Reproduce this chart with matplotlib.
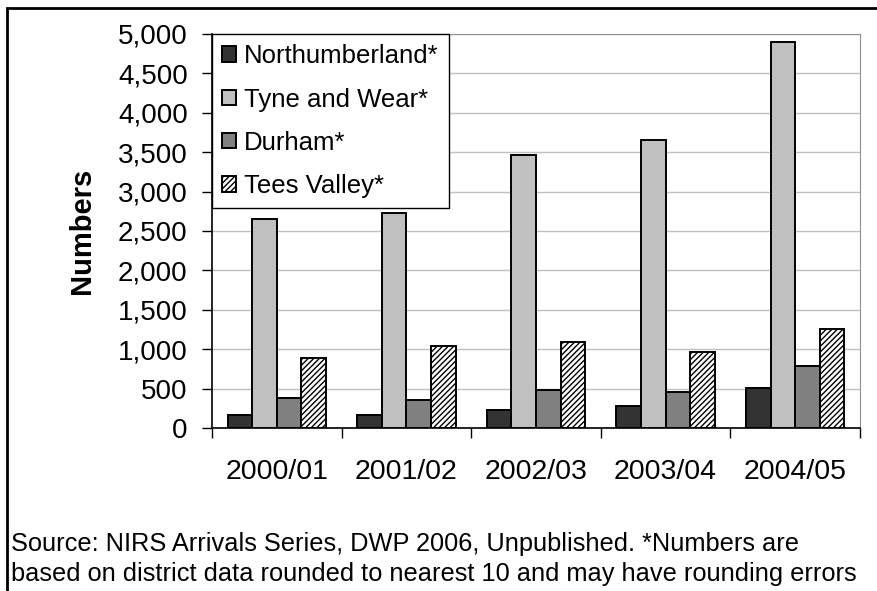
import matplotlib

matplotlib.use("Agg")
import matplotlib.pyplot as plt  # noqa: E402
import numpy as np  # noqa: E402
from matplotlib.patches import Rectangle  # noqa: E402
from matplotlib.ticker import FuncFormatter  # noqa: E402

plt.rcParams["font.family"] = ["Liberation Sans", "DejaVu Sans"]
plt.rcParams["hatch.linewidth"] = 1.0

years = ["2000/01", "2001/02", "2002/03", "2003/04", "2004/05"]
northumberland = [170, 170, 230, 280, 510]
tyne_and_wear = [2650, 2730, 3470, 3650, 4900]
durham = [380, 350, 480, 455, 790]
tees_valley = [890, 1040, 1090, 970, 1250]

series = [
    ("Northumberland*", northumberland, "#333333", None),
    ("Tyne and Wear*", tyne_and_wear, "#c0c0c0", None),
    ("Durham*", durham, "#808080", None),
    ("Tees Valley*", tees_valley, "white", "//////"),
]

fig = plt.figure(figsize=(8.78, 5.91), dpi=100)
ax = fig.add_axes([0.2415, 0.2758, 0.738, 0.6667])

x = np.arange(len(years))
width = 0.19
for i, (name, vals, color, hatch) in enumerate(series):
    ax.bar(x + (i - 1.5) * width, vals, width, color=color, edgecolor="black",
           linewidth=1.4, hatch=hatch, label=name, zorder=3)

ax.set_xlim(-0.5, len(years) - 0.5)
ax.set_ylim(0, 5000)
ax.set_yticks(np.arange(0, 5001, 500))
ax.yaxis.set_major_formatter(FuncFormatter(lambda v, _: f"{v:,.0f}"))
ax.tick_params(axis="y", labelsize=20, length=7.5, width=1, pad=10)
ax.grid(axis="y", color="#c0c0c0", linewidth=1, zorder=0)

# category labels sit between the boundary ticks
ax.set_xticks(np.arange(-0.5, len(years)), minor=False)
ax.set_xticklabels([])
ax.tick_params(axis="x", which="major", length=7, width=1)
ax.set_xticks(x, minor=True)
ax.set_xticklabels(years, minor=True)
ax.tick_params(axis="x", which="minor", length=0, labelsize=20.5, pad=22)

for side in ("top", "right"):
    ax.spines[side].set_color("#909090")
for side in ("left", "bottom"):
    ax.spines[side].set_linewidth(1.2)

ax.set_ylabel("Numbers", fontsize=21, fontweight="bold", labelpad=16)

leg = ax.legend(loc="upper left", bbox_to_anchor=(0, 1), borderaxespad=0,
                fontsize=18.5, fancybox=False, framealpha=1, edgecolor="black",
                handlelength=0.55, handleheight=0.55, handletextpad=0.3,
                labelspacing=0.75, borderpad=0.4)
leg.get_frame().set_linewidth(1)
leg.set_zorder(5)

fig.text(11 / 878, 0.068, "Source: NIRS Arrivals Series, DWP 2006, Unpublished. *Numbers are",
         fontsize=18.3, ha="left", va="baseline")
fig.text(11 / 878, 0.017, "based on district data rounded to nearest 10 and may have rounding errors",
         fontsize=18.3, ha="left", va="baseline")

# outer frame around the whole exhibit
fig.patches.append(Rectangle((7 / 878, -0.05), 1.2, (591 - 8) / 591 + 0.05,
                             transform=fig.transFigure, fill=False,
                             edgecolor="black", linewidth=2))

fig.savefig("out.png", dpi=100)
